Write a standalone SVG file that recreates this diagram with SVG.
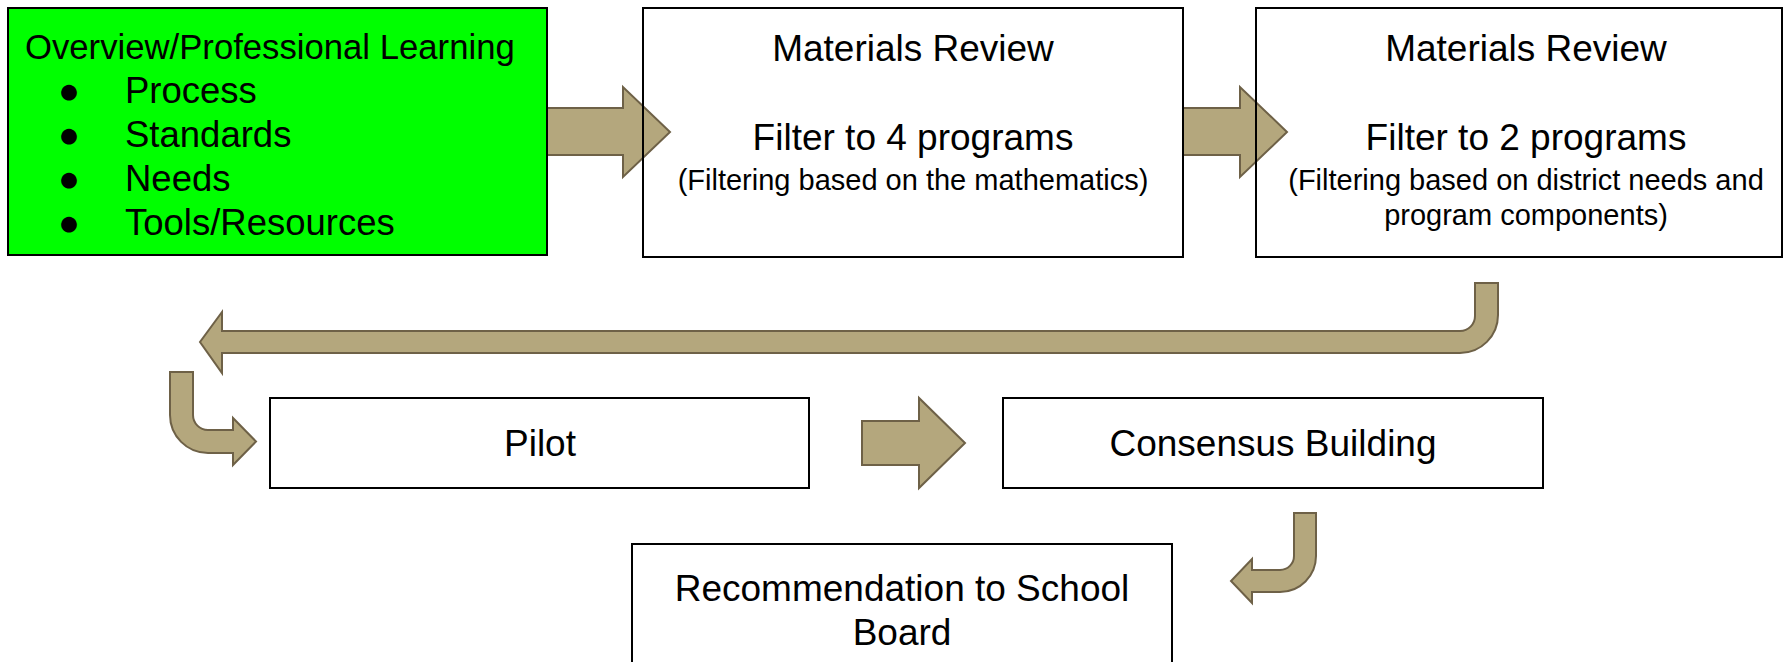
<svg xmlns="http://www.w3.org/2000/svg" width="1785" height="662" viewBox="0 0 1785 662">
<style>
.box{fill:none;stroke:#000;stroke-width:2}
.arr{fill:#b4a77d;stroke:#6e6147;stroke-width:2;stroke-linejoin:miter}
text{font-family:"Liberation Sans",Arial,sans-serif;fill:#000}
.t{font-size:37px;text-anchor:middle}
.s{font-size:29px;text-anchor:middle}
.b{font-size:36.5px}
</style>
<rect width="1785" height="662" fill="#fff"/>
<g id="connectors">
<polygon class="arr" points="547,108 623,108 623,87 670,132 623,177 623,155 547,155"/>
<polygon class="arr" points="1183,108 1240,108 1240,87 1287,132 1240,177 1240,155 1183,155"/>
<path class="arr" d="M1475,283 H1498 V315 A38,38 0 0 1 1460,353 H222 V373 L200,342 L222,312 V331 H1460 A15,15 0 0 0 1475,316 Z"/>
<path class="arr" d="M170,372 H193 V415 A15,15 0 0 0 208,430 H233 V418 L256,441.5 L233,465 V453 H208 A38,38 0 0 1 170,415 Z"/>
<polygon class="arr" points="862,421 919,421 919,398 965,443 919,488 919,465 862,465"/>
<path class="arr" d="M1294,513 H1316 V556 A36,36 0 0 1 1280,592 H1252 V603 L1231,581 L1252,559 V570 H1280 A14,14 0 0 0 1294,556 Z"/>
</g>
<g id="overview">
<rect x="8" y="8" width="539" height="247" fill="#00ff00" stroke="#000" stroke-width="2"/>
<text x="25" y="59" style="font-size:34.7px">Overview/Professional Learning</text>
<text x="58" y="103" class="b">●</text><text x="125" y="103" class="b">Process</text>
<text x="58" y="147" class="b">●</text><text x="125" y="147" class="b">Standards</text>
<text x="58" y="191" class="b">●</text><text x="125" y="191" class="b">Needs</text>
<text x="58" y="235" class="b">●</text><text x="125" y="235" class="b">Tools/Resources</text>
</g>
<g id="review1">
<rect class="box" x="643" y="8" width="540" height="249"/>
<text x="913" y="61" class="t">Materials Review</text>
<text x="913" y="150" class="t">Filter to 4 programs</text>
<text x="913" y="190" class="s">(Filtering based on the mathematics)</text>
</g>
<g id="review2">
<rect class="box" x="1256" y="8" width="526" height="249"/>
<text x="1526" y="61" class="t">Materials Review</text>
<text x="1526" y="150" class="t">Filter to 2 programs</text>
<text x="1526" y="190" class="s">(Filtering based on district needs and</text>
<text x="1526" y="225" class="s">program components)</text>
</g>
<g id="pilot">
<rect class="box" x="270" y="398" width="539" height="90"/>
<text x="540" y="456" class="t">Pilot</text>
</g>
<g id="consensus">
<rect class="box" x="1003" y="398" width="540" height="90"/>
<text x="1273" y="456" class="t">Consensus Building</text>
</g>
<g id="recommendation">
<rect class="box" x="632" y="544" width="540" height="130"/>
<text x="902" y="601" class="t">Recommendation to School</text>
<text x="902" y="645" class="t">Board</text>
</g>
</svg>
